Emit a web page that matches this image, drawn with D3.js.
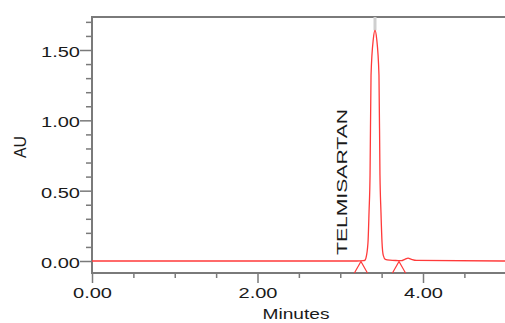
<!DOCTYPE html>
<html>
<head>
<meta charset="utf-8">
<script src="https://cdn.jsdelivr.net/npm/d3@7"></script>
<style>
  html, body { margin: 0; padding: 0; background: #fff; }
  svg { display: block; }
  text { font-family: "Liberation Sans", Arial, sans-serif; fill: #1a1a1a; }
</style>
</head>
<body>
<svg id="chart" width="505" height="323"></svg>
<script>
// ---- data ----
const times = [0, 3.20, 3.28, 3.30, 3.31, 3.335, 3.348, 3.36, 3.372, 3.40, 3.42, 3.44, 3.468, 3.48, 3.492, 3.505, 3.52, 3.545, 3.60, 3.70, 3.74, 3.78, 3.82, 3.86, 3.92, 5.0];
const au    = [0, 0, 0.002, 0.006, 0.02, 0.13, 0.35, 0.61, 1.32, 1.58, 1.64, 1.58, 1.32, 0.61, 0.35, 0.13, 0.04, 0.012, 0.006, 0.003, 0.002, 0.012, 0.02, 0.012, 0.004, 0];
const peakName = "TELMISARTAN";
const peakTime = 3.42;
const peakHeight = 1.64;
const integrationMarks = [3.25, 3.71];
const yMajorTicks = [0, 0.5, 1.0, 1.5];
const yMinorTicks = [0.1, 0.2, 0.3, 0.4, 0.6, 0.7, 0.8, 0.9, 1.1, 1.2, 1.3, 1.4, 1.6, 1.7];
const xMajorTicks = [0, 2, 4];
const xMinorTicks = [0.5, 1.0, 1.5, 2.5, 3.0, 3.5, 4.5];
const xTitle = "Minutes";
const yTitle = "AU";

// ---- layout ----
const mLeft = 92, mTop = 17, mBottom = 273, mRight = 505.75;
const svg = d3.select("#chart");
const x = d3.scaleLinear().domain([0, 5]).range([mLeft, mRight]);
const y = d3.scaleLinear().domain([0, 1.5]).range([261, 50]);
const axisColor = "#7a7a7a";
const red = "#ff3a3a";

// frame top line
svg.append("line").attr("x1", mLeft).attr("x2", 505).attr("y1", mTop).attr("y2", mTop)
  .attr("stroke", axisColor).attr("stroke-width", 2);

// peak apex marker (grey)
svg.append("line").attr("x1", x(peakTime)).attr("x2", x(peakTime))
  .attr("y1", mTop).attr("y2", y(peakHeight))
  .attr("stroke", "#cfcfcf").attr("stroke-width", 3);

// y axis minor
const gyMinor = svg.append("g").attr("transform", `translate(${mLeft},0)`)
  .call(d3.axisLeft(y).tickValues(yMinorTicks).tickSize(6).tickFormat(""));
// y axis major
const gy = svg.append("g").attr("transform", `translate(${mLeft},0)`)
  .call(d3.axisLeft(y).tickValues(yMajorTicks).tickSize(12).tickPadding(0).tickFormat(d3.format(".2f")));
[gyMinor, gy].forEach(g => {
  g.attr("color", axisColor);
  g.select(".domain").remove();
  g.selectAll(".tick line").attr("stroke-width", 1.5);
});
gy.selectAll(".tick text")
  .attr("font-size", 15).attr("dy", "0.43em")
  .attr("textLength", 39).attr("lengthAdjust", "spacingAndGlyphs")
  .attr("fill", "#1a1a1a");
svg.append("line").attr("x1", mLeft).attr("x2", mLeft).attr("y1", mTop - 1).attr("y2", mBottom + 1)
  .attr("stroke", axisColor).attr("stroke-width", 2);

// x axis
const gxMinor = svg.append("g").attr("transform", `translate(0,${mBottom})`)
  .call(d3.axisBottom(x).tickValues(xMinorTicks).tickSize(5).tickFormat(""));
const gx = svg.append("g").attr("transform", `translate(0,${mBottom})`)
  .call(d3.axisBottom(x).tickValues(xMajorTicks).tickSize(10).tickPadding(4.3).tickFormat(d3.format(".2f")));
[gxMinor, gx].forEach(g => {
  g.attr("color", axisColor);
  g.select(".domain").remove();
  g.selectAll(".tick line").attr("stroke-width", 1.5);
});
gx.selectAll(".tick text")
  .attr("font-size", 15)
  .attr("textLength", 39).attr("lengthAdjust", "spacingAndGlyphs")
  .attr("fill", "#1a1a1a");
svg.append("line").attr("x1", mLeft).attr("x2", 505).attr("y1", mBottom).attr("y2", mBottom)
  .attr("stroke", axisColor).attr("stroke-width", 2);

// axis titles
svg.append("text").attr("x", 296).attr("y", 319).attr("text-anchor", "middle")
  .attr("font-size", 15).attr("textLength", 67).attr("lengthAdjust", "spacingAndGlyphs")
  .text(xTitle);
svg.append("text").attr("transform", "translate(26,147) rotate(-90)").attr("text-anchor", "middle")
  .attr("font-size", 16).attr("textLength", 22).attr("lengthAdjust", "spacingAndGlyphs")
  .text(yTitle);

// trace
const pts = times.map((t, i) => [t, au[i]]);
svg.append("path").datum(pts)
  .attr("fill", "none").attr("stroke", red).attr("stroke-width", 1.3)
  .attr("d", d3.line().x(d => x(d[0])).y(d => y(d[1])).curve(d3.curveMonotoneX));

// integration markers
const dt = 0.079;
integrationMarks.forEach(t => {
  svg.append("path")
    .attr("fill", "none").attr("stroke", red).attr("stroke-width", 1.2)
    .attr("d", d3.line()([[x(t - dt), mBottom], [x(t), y(0) + 0.5], [x(t + dt), mBottom]]));
});

// peak label
svg.append("text").attr("transform", `translate(347,255) rotate(-90)`)
  .attr("font-size", 15).attr("textLength", 146).attr("lengthAdjust", "spacingAndGlyphs")
  .text(peakName);
</script>
</body>
</html>
